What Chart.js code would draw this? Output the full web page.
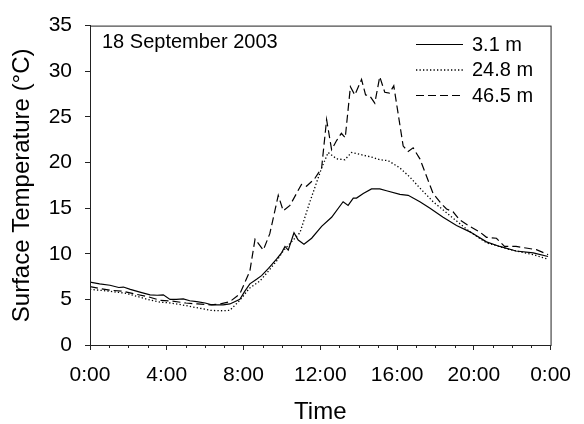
<!DOCTYPE html>
<html>
<head>
<meta charset="utf-8">
<script src="https://cdn.jsdelivr.net/npm/chart.js@4"></script>
<style>
  html, body { margin: 0; padding: 0; background: #fff; }
  #box { width: 584px; height: 424px; }
</style>
</head>
<body>
<div id="box"><canvas id="grafico"></canvas></div>
<script>
// 18 September 2003, surface temperature at three heights
const etiquetas = ["3.1 m", "24.8 m", "46.5 m"];
const ticksX = [0, 4, 8, 12, 16, 20, 24];
const ticksY = [0, 5, 10, 15, 20, 25, 30, 35];

const horas1 = [0, 0.5, 1.04, 1.5, 1.74, 2.1, 2.6, 3.13, 3.5, 3.82, 4.17, 4.5, 4.86, 5.2, 5.56, 6.0, 6.34, 6.94, 7.29, 7.81, 8.07, 8.33, 8.68, 8.94, 9.3, 9.72, 9.98, 10.16, 10.33, 10.63, 10.85, 11.15, 11.55, 12.07, 12.59, 13.19, 13.45, 13.72, 13.89, 14.24, 14.67, 15.1, 15.45, 16.15, 16.58, 17.19, 17.7, 18.4, 19.1, 19.8, 20.66, 21.35, 22.2, 23.1, 23.87];
const temp1 = [6.9, 6.7, 6.55, 6.3, 6.35, 6.1, 5.8, 5.5, 5.45, 5.5, 5.0, 5.0, 5.05, 4.85, 4.75, 4.6, 4.4, 4.4, 4.5, 5.0, 5.9, 6.7, 7.2, 7.6, 8.4, 9.4, 10.1, 10.8, 10.4, 12.3, 11.5, 11.05, 11.7, 13.0, 14.0, 15.7, 15.3, 16.1, 16.1, 16.6, 17.1, 17.1, 16.9, 16.5, 16.4, 15.7, 15.0, 14.0, 13.1, 12.4, 11.3, 10.8, 10.3, 10.1, 9.7];

const horas2 = [0, 0.5, 1.0, 1.9, 2.5, 3.0, 3.65, 4.2, 4.8, 5.38, 5.8, 6.25, 6.8, 7.29, 7.81, 8.3, 8.85, 9.3, 9.72, 10.1, 10.5, 10.94, 11.46, 12.07, 12.41, 12.85, 13.28, 13.63, 14.24, 14.67, 15.1, 15.54, 16.15, 16.67, 17.19, 17.88, 18.92, 19.8, 20.66, 21.88, 23.1, 23.87];
const temp2 = [6.1, 6.0, 5.9, 5.65, 5.3, 5.0, 4.7, 4.6, 4.4, 4.15, 4.0, 3.8, 3.75, 3.8, 4.9, 6.2, 7.0, 8.1, 9.2, 10.4, 11.3, 12.3, 15.7, 19.4, 21.1, 20.4, 20.3, 21.1, 20.8, 20.6, 20.3, 20.2, 19.4, 18.4, 17.2, 15.7, 13.9, 12.4, 11.2, 10.45, 9.9, 9.4];

const horas3 = [0, 0.5, 1.04, 1.7, 2.3, 3.0, 3.65, 4.3, 5.0, 5.6, 6.25, 6.8, 7.29, 7.81, 8.33, 8.6, 9.03, 9.37, 9.81, 10.07, 10.42, 11.02, 11.28, 11.7, 12.07, 12.33, 12.59, 12.85, 13.1, 13.3, 13.57, 13.8, 14.15, 14.36, 14.58, 14.84, 15.1, 15.36, 15.6, 15.83, 16.32, 16.58, 16.84, 17.19, 17.88, 18.3, 18.58, 18.92, 19.27, 19.79, 20.3, 20.66, 21.18, 21.6, 22.2, 22.8, 23.26, 23.87];
const temp3 = [6.4, 6.2, 6.0, 5.9, 5.6, 5.3, 4.9, 4.8, 4.6, 4.5, 4.4, 4.5, 4.75, 5.6, 8.1, 11.6, 10.4, 12.2, 16.4, 14.7, 15.3, 17.6, 17.4, 18.2, 19.4, 24.7, 21.4, 22.4, 23.2, 22.7, 28.3, 27.4, 29.1, 27.4, 27.3, 26.5, 29.4, 27.7, 27.6, 28.4, 21.8, 21.2, 21.6, 20.4, 16.6, 15.5, 14.9, 14.6, 13.7, 13.0, 12.4, 11.8, 11.7, 10.8, 10.8, 10.6, 10.45, 9.9];

const FUENTE = "Arial, 'Liberation Sans', sans-serif";
const aPuntos = (h, t) => h.map((x, i) => ({ x: x, y: t[i] }));

// frame, minor ticks, date label and legend
const decorado = {
    id: "decorado",
    afterDraw(chart) {
        const ctx = chart.ctx;
        const a = chart.chartArea;
        const sx = chart.scales.x;
        ctx.save();
        ctx.strokeStyle = "#222";
        ctx.lineWidth = 1;
        ctx.strokeRect(a.left + 0.5, a.top + 0.5, a.right - a.left, a.bottom - a.top);

        // minor ticks every hour
        ctx.beginPath();
        for (let h = 1; h < 24; h++) {
            if (h % 4 === 0) continue;
            const px = Math.round(sx.getPixelForValue(h)) + 0.5;
            ctx.moveTo(px, a.bottom);
            ctx.lineTo(px, a.bottom + 3);
        }
        ctx.stroke();

        ctx.fillStyle = "#000";
        ctx.font = "20px " + FUENTE;
        ctx.textBaseline = "alphabetic";
        ctx.fillText("18 September 2003", 102, 48);

        // legend
        chart.data.datasets.forEach((ds, i) => {
            const y = 44 + i * 25.5;
            ctx.strokeStyle = "#000";
            ctx.lineWidth = ds.borderWidth;
            ctx.setLineDash(ds.borderDash || []);
            ctx.beginPath();
            ctx.moveTo(416, y + 0.5);
            ctx.lineTo(463, y + 0.5);
            ctx.stroke();
            ctx.setLineDash([]);
            ctx.textBaseline = "middle";
            ctx.fillText(ds.label, 472, y + 1);
        });
        ctx.restore();
    }
};

new Chart(document.getElementById("grafico"), {
    type: "line",
    data: {
        datasets: [
            { label: etiquetas[0], data: aPuntos(horas1, temp1), borderColor: "#000", borderWidth: 1.2 },
            { label: etiquetas[1], data: aPuntos(horas2, temp2), borderColor: "#000", borderWidth: 1.3, borderDash: [1.3, 2.2] },
            { label: etiquetas[2], data: aPuntos(horas3, temp3), borderColor: "#000", borderWidth: 1.2, borderDash: [8, 4] }
        ]
    },
    options: {
        responsive: true,
        maintainAspectRatio: false,
        animation: false,
        layout: { padding: { top: 21, right: 33, left: 0, bottom: 0 } },
        elements: { point: { radius: 0 }, line: { tension: 0 } },
        plugins: { legend: { display: false }, tooltip: { enabled: false } },
        scales: {
            x: {
                type: "linear",
                min: 0,
                max: 24,
                afterBuildTicks: s => { s.ticks = ticksX.map(v => ({ value: v })); },
                afterFit: s => { s.height = 79; },
                ticks: {
                    callback: v => (v % 24) + ":00",
                    color: "#000",
                    font: { family: FUENTE, size: 21 },
                    padding: 13,
                    maxRotation: 0,
                    autoSkip: false
                },
                grid: { drawOnChartArea: false, drawTicks: true, tickLength: 5, color: "#222" },
                border: { display: true, color: "#222", width: 1 },
                title: {
                    display: true,
                    text: "Time",
                    color: "#000",
                    font: { family: FUENTE, size: 24, lineHeight: 1 },
                    padding: { top: 0, bottom: 0 }
                }
            },
            y: {
                min: 0,
                max: 35,
                afterBuildTicks: s => { s.ticks = ticksY.map(v => ({ value: v })); },
                afterFit: s => { s.width = 90; },
                ticks: {
                    color: "#000",
                    font: { family: FUENTE, size: 21 },
                    padding: 13
                },
                grid: { drawOnChartArea: false, drawTicks: true, tickLength: 5, color: "#222" },
                border: { display: true, color: "#222", width: 1 },
                title: {
                    display: true,
                    text: "Surface Temperature (°C)",
                    color: "#000",
                    font: { family: FUENTE, size: 24 },
                    padding: { top: 8, bottom: 0 }
                }
            }
        }
    },
    plugins: [decorado]
});
</script>
</body>
</html>
